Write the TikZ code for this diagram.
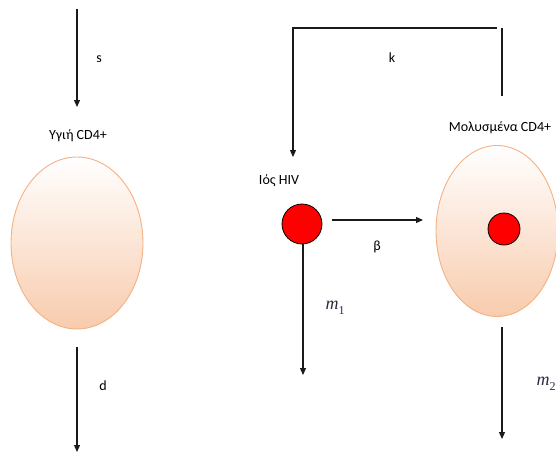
\documentclass[tikz,border=0pt]{standalone}
\usepackage{fontspec}
\setmainfont{Carlito}
\newfontfamily\rateface{Liberation Serif}
\usetikzlibrary{shapes.geometric,arrows.meta}
\definecolor{celledge}{HTML}{F4B183}
\definecolor{cellbottom}{HTML}{F8CBAD}
\definecolor{virus}{HTML}{FF0000}
\definecolor{flow}{HTML}{1A1A1A}
\definecolor{ratecol}{HTML}{2B2B40}
% rate symbol with an upright index
\newcommand{\rate}[2]{{\rateface\itshape #1}{\rateface\upshape\raisebox{-0.3em}{\fontsize{12}{12}\selectfont #2}}}
\begin{document}
\begin{tikzpicture}[x=1pt,y=-1pt,
  cell/.style={ellipse,draw=celledge,line width=0.9pt,top color=white,bottom color=cellbottom,inner sep=0pt},
  hiv/.style={circle,draw=black,line width=0.8pt,fill=virus,inner sep=0pt},
  flowline/.style={draw=flow,line width=1.2pt},
  flowarrow/.style={flowline,-{Triangle[length=7pt,width=6pt]}},
  lbl/.style={font=\fontsize{14}{16}\selectfont,inner sep=0pt},
  mlbl/.style={font=\fontsize{18}{20}\selectfont,text=ratecol,inner sep=0pt}]
\useasboundingbox (0,0) rectangle (556,452);
\begin{scope}
\clip (0,0) rectangle (556,452);

% healthy cell column
\coordinate (sTop) at (77,9);
\coordinate (sEnd) at (77,107);
\node[lbl] (healthyLbl) at (78,136) {Υγιή CD4+};
\node[cell,minimum width=132pt,minimum height=172pt] (healthy) at (77,243) {};
\coordinate (dTop) at (77,347);
\coordinate (dEnd) at (77,452);
\draw[flowarrow] (sTop) -- (sEnd);
\draw[flowarrow] (dTop) -- (dEnd);
\node[lbl] (sLbl) at (99,59) {s};
\node[lbl] (dLbl) at (103,386) {d};

% virus
\node[lbl] (virusLbl) at (279,181) {Ιός HIV};
\node[hiv,minimum size=40pt] (virus) at (302,224) {};

% infected cell
\node[lbl] (infLbl) at (500,128) {Μολυσμένα CD4+};
\node[cell,minimum width=122pt,minimum height=171pt] (infected) at (497,231) {};
\node[hiv,minimum size=32pt] (inner) at (504,229) {};

% infection flow beta
\coordinate (bStart) at (332,220);
\coordinate (bEnd) at (423,220);
\draw[flowarrow] (bStart) -- (bEnd);
\node[lbl] (bLbl) at (377,247) {β};

% production k
\coordinate (kFoot) at (502,96);
\coordinate (kHead) at (502,28);
\coordinate (kRight) at (497,28);
\coordinate (kLeft) at (293,28);
\coordinate (kEnd) at (293,157);
\draw[flowline] (kFoot) -- (kHead);
\draw[flowarrow] (kRight) -- (kLeft) -- (kEnd);
\node[lbl] (kLbl) at (392,58) {k};

% clearance m1, m2
\coordinate (m1Top) at (303,243);
\coordinate (m1End) at (303,375);
\draw[flowarrow] (m1Top) -- (m1End);
\node[mlbl] (m1Lbl) at (335,308) {\rate{m}{1}};
\coordinate (m2Top) at (502,327);
\coordinate (m2End) at (502,439);
\draw[flowarrow] (m2Top) -- (m2End);
\node[mlbl] (m2Lbl) at (546,384) {\rate{m}{2}};
\end{scope}
\end{tikzpicture}
\end{document}
